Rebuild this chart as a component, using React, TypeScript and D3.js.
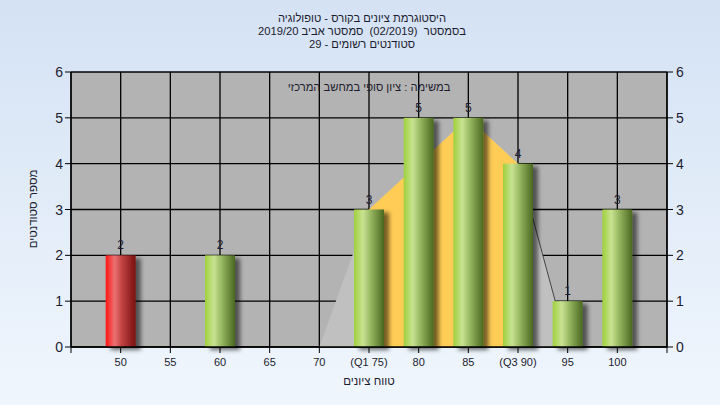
import React from "react";
import * as d3 from "d3";

const titleLines = [
  "היסטוגרמת ציונים בקורס - טופולוגיה",
  "בסמסטר  (02/2019)  סמסטר אביב 2019/20",
  "סטודנטים רשומים - 29",
];
const noteText = "במשימה : ציון סופי במחשב המרכזי";
const yTitle = "מספר סטודנטים";
const xTitle = "טווח ציונים";

const xTicks = [50, 55, 60, 65, 70, 75, 80, 85, 90, 95, 100];
const xTickLabels = ["50", "55", "60", "65", "70", "(Q1 75)", "80", "85", "(Q3 90)", "95", "100"];
const yTicks = [0, 1, 2, 3, 4, 5, 6];

const barScores = [50, 60, 75, 80, 85, 90, 95, 100];
const barCounts = [2, 2, 3, 5, 5, 4, 1, 3];
const failThreshold = 55;

const curveScores = [70, 75, 80, 85, 90, 95];
const curveValues = [0, 3, 4, 5, 4, 0];
const q1 = 75;
const q3 = 90;

const W = 720;
const H = 405;
const L = 71, R = 667, T = 72, B = 347;

export default function App() {
  const x = d3.scaleLinear().domain([45, 105]).range([L, R]);
  const y = d3.scaleLinear().domain([0, 6]).range([B, T]);
  const barW = 30;
  const font = "'Liberation Sans', Arial, sans-serif";

  const pts = curveScores.map((s, i) => [s, curveValues[i]] as [number, number]);
  const area = d3.area<[number, number]>().x(d => x(d[0])).y0(y(0)).y1(d => y(d[1]));
  const line = d3.line<[number, number]>().x(d => x(d[0])).y(d => y(d[1]));
  const midPts = pts.filter(p => p[0] >= q1 && p[0] <= q3);
  const tailPts = pts.filter(p => p[0] >= q3);

  const gridX = d3.range(45, 106, 5);
  const txt = "#1c1c30";

  return (
    <svg width={W} height={H} style={{ position: "fixed", left: 0, top: 0 }} fontFamily={font}>
      <defs>
        <linearGradient id="bg" x1="0" y1="0" x2="0" y2="1">
          <stop offset="0%" stopColor="#d4e2f4" />
          <stop offset="100%" stopColor="#f0f6fd" />
        </linearGradient>
        <linearGradient id="green" x1="0" y1="0" x2="1" y2="0">
          <stop offset="0%" stopColor="#9fd03c" />
          <stop offset="30%" stopColor="#c8e292" />
          <stop offset="55%" stopColor="#98b862" />
          <stop offset="100%" stopColor="#4a6820" />
        </linearGradient>
        <linearGradient id="red" x1="0" y1="0" x2="1" y2="0">
          <stop offset="0%" stopColor="#ff1616" />
          <stop offset="30%" stopColor="#ea7070" />
          <stop offset="55%" stopColor="#c04040" />
          <stop offset="100%" stopColor="#781010" />
        </linearGradient>
        <filter id="shadow" x="-30%" y="-10%" width="170%" height="130%">
          <feDropShadow dx="5" dy="3" stdDeviation="2.2" floodColor="#000" floodOpacity="0.55" />
        </filter>
      </defs>
      <rect x={0} y={0} width={W} height={H} fill="url(#bg)" />

      {titleLines.map((t, i) => (
        <text key={i} x={362} y={22 + i * 13} textAnchor="middle" direction="rtl" fontSize={11.2}
          fill={txt} style={{ whiteSpace: "pre" }}>
          {t}
        </text>
      ))}

      <rect x={L} y={T} width={R - L} height={B - T} fill="#b3b3b3" />
      {yTicks.map(v => (
        <line key={"gy" + v} x1={L} x2={R} y1={y(v)} y2={y(v)} stroke="#000" strokeWidth={1.3} />
      ))}
      {gridX.map(v => (
        <line key={"gx" + v} x1={x(v)} x2={x(v)} y1={T} y2={B} stroke="#000" strokeWidth={1.3} />
      ))}

      <path d={area(pts) || ""} fill="#c0c0c0" />
      <path d={area(midPts) || ""} fill="#ffcc55" />
      <path d={line(tailPts) || ""} fill="none" stroke="#444" strokeWidth={1} />

      <text x={369} y={91} textAnchor="middle" direction="rtl" fontSize={11.2} fill={txt}>
        {noteText}
      </text>

      {barScores.map((s, i) => (
        <rect
          key={"b" + s}
          x={x(s) - barW / 2}
          y={y(barCounts[i])}
          width={barW}
          height={y(0) - y(barCounts[i])}
          fill={s < failThreshold ? "url(#red)" : "url(#green)"}
          filter="url(#shadow)"
        />
      ))}
      {barScores.map((s, i) => (
        <text key={"v" + s} x={x(s)} y={y(barCounts[i]) - 6} textAnchor="middle" fontSize={12} fill={txt}>
          {barCounts[i]}
        </text>
      ))}

      <line x1={L} x2={R} y1={B} y2={B} stroke="#000" strokeWidth={1.3} />
      <line x1={L} x2={L} y1={T} y2={B} stroke="#000" strokeWidth={1.3} />
      <line x1={R} x2={R} y1={T} y2={B} stroke="#000" strokeWidth={1.3} />

      {yTicks.map(v => (
        <g key={"yt" + v}>
          <line x1={L - 6} x2={L} y1={y(v)} y2={y(v)} stroke="#000" />
          <line x1={R} x2={R + 6} y1={y(v)} y2={y(v)} stroke="#000" />
          <text x={L - 8} y={y(v) + 5} textAnchor="end" fontSize={14} fill={txt}>{v}</text>
          <text x={R + 9} y={y(v) + 5} textAnchor="start" fontSize={14} fill={txt}>{v}</text>
        </g>
      ))}
      {gridX.map(v => (
        <line key={"xt" + v} x1={x(v)} x2={x(v)} y1={B} y2={B + 6} stroke="#000" />
      ))}
      {xTicks.map((v, i) => (
        <text key={"xl" + v} x={x(v)} y={366} textAnchor="middle" fontSize={11} fill={txt}>
          {xTickLabels[i]}
        </text>
      ))}

      <text x={369} y={385} textAnchor="middle" direction="rtl" fontSize={11.5} fill={txt}>{xTitle}</text>
      <text transform={`translate(37,209) rotate(-90)`} textAnchor="middle" direction="rtl" fontSize={11.5} fill={txt}>
        {yTitle}
      </text>
    </svg>
  );
}
